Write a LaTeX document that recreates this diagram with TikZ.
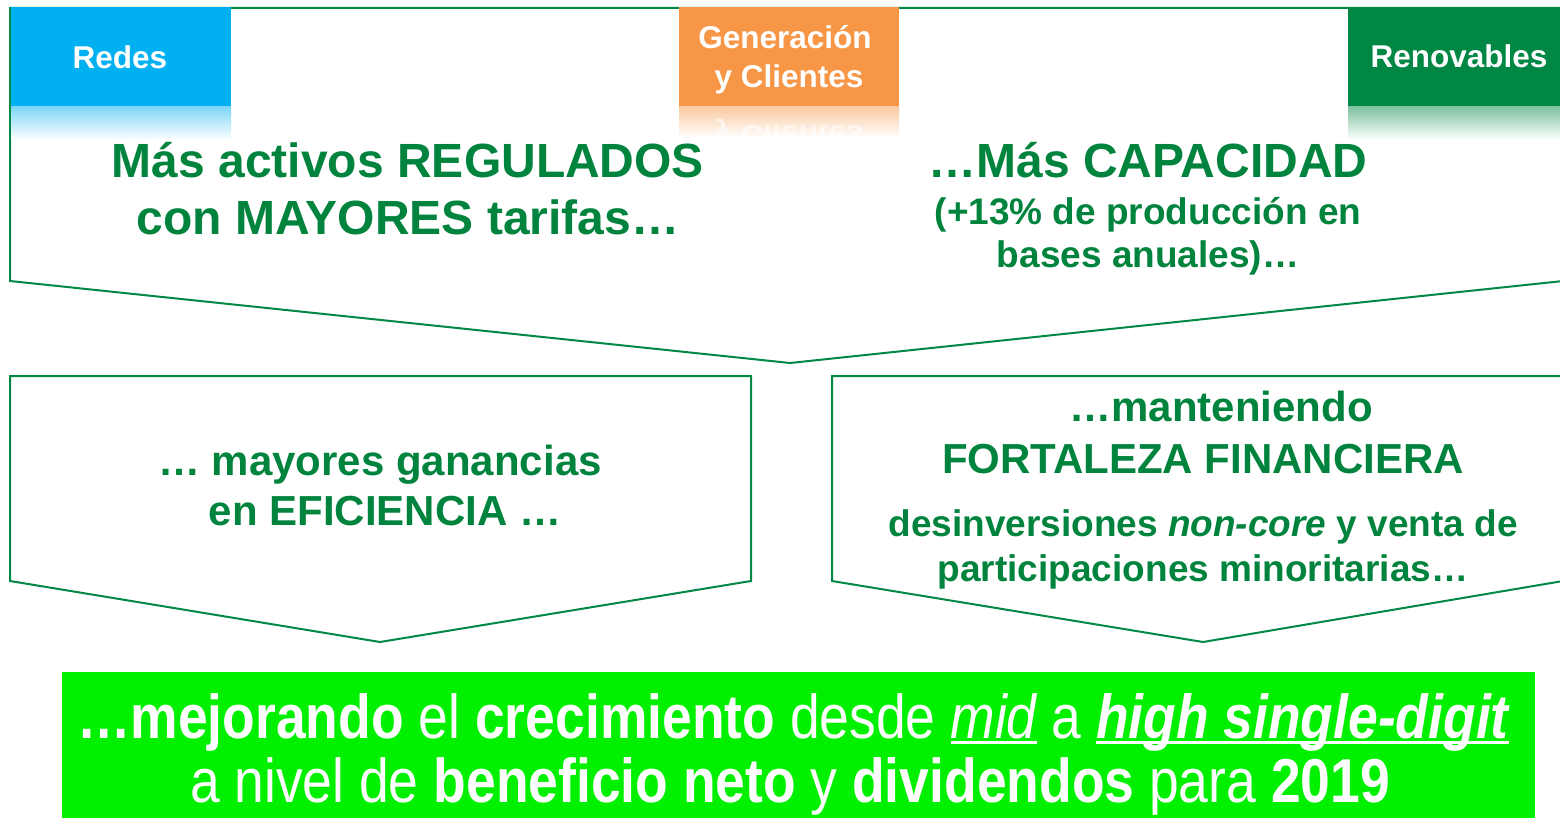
\documentclass[tikz,border=0pt]{standalone}
\usepackage{fontspec}
\setmainfont{Liberation Sans}
\newfontfamily\narrowfont[FakeStretch=0.862]{Liberation Sans}
\definecolor{bordergreen}{RGB}{0,136,70}
\definecolor{textgreen}{RGB}{0,132,61}
\definecolor{bluetab}{RGB}{0,176,240}
\definecolor{orangetab}{RGB}{247,150,70}
\definecolor{greentab}{RGB}{0,135,68}
\definecolor{brightgreen}{RGB}{0,240,0}
\newcommand{\myul}[1]{\setbox0\hbox{#1}\rlap{\rule[-0.1em]{\wd0}{0.05em}}\box0}
\begin{document}
\begin{tikzpicture}[x=1pt,y=-1pt,line join=miter]
\tikzset{
  outline/.style={draw=bordergreen,line width=2pt,fill=white},
  bigtxt/.style={text=textgreen,font=\bfseries\fontsize{48}{56}\selectfont,inner sep=0pt,anchor=base},
  midtxt/.style={text=textgreen,font=\bfseries\fontsize{42}{50}\selectfont,inner sep=0pt,anchor=base},
  smalltxt/.style={text=textgreen,font=\bfseries\fontsize{37}{44}\selectfont,inner sep=0pt,anchor=base},
  tabtxt/.style={text=white,font=\bfseries\fontsize{31.5}{38}\selectfont,inner sep=0pt,anchor=base},
  bottxt/.style={text=white,font=\narrowfont\fontsize{62}{70}\selectfont,inner sep=0pt,anchor=base}
}
\useasboundingbox (0,0) rectangle (1560,818);
\fill[white] (0,0) rectangle (1560,818);
% top pentagon
\draw[outline] (10,8) -- (1563,8) -- (1563,281) -- (790,363) -- (10,281) -- cycle;
% tabs
\fill[bluetab] (11,7) rectangle (231,107);
\shade[top color=bluetab!50,bottom color=white] (11,107) rectangle (231,140);
\fill[orangetab] (679,7) rectangle (899,107);
\shade[top color=orangetab!50,bottom color=white] (679,107) rectangle (899,138);
\fill[greentab] (1348,7) rectangle (1561,107);
\shade[top color=greentab!50,bottom color=white] (1348,107) rectangle (1561,140);
\begin{scope}
  \clip (679,107) rectangle (899,138);
  \node[tabtxt,text opacity=0.6,yscale=-1,transform shape] (refl) at (789,126) {y Clientes};
\end{scope}
\node[tabtxt] (redes) at (120,69) {Redes};
\node[tabtxt] (gen1) at (785,49) {Generación};
\node[tabtxt] (gen2) at (789,88) {y Clientes};
\node[tabtxt] (renov) at (1459,68) {Renovables};
% top texts
\node[bigtxt] (t1) at (408,178) {Más activos REGULADOS};
\node[bigtxt] (t2) at (408,235) {con MAYORES tarifas…};
\node[bigtxt] (t3) at (1148,178) {…Más CAPACIDAD};
\node[smalltxt] (t4) at (1148,225) {(+13\% de producción en};
\node[smalltxt] (t5) at (1148,268) {bases anuales)…};
% bottom pentagons
\draw[outline] (10,376) -- (751,376) -- (751,581) -- (380,642) -- (10,581) -- cycle;
\draw[outline] (832,376) -- (1563,376) -- (1563,581) -- (1203,642) -- (832,581) -- cycle;
\node[midtxt] (l1) at (380,475) {… mayores ganancias};
\node[midtxt] (l2) at (385,525) {en EFICIENCIA …};
\node[midtxt] (r1) at (1221,421) {…manteniendo};
\node[midtxt] (r2) at (1203,473) {FORTALEZA FINANCIERA};
\node[smalltxt] (r3) at (1203,536) {desinversiones \textit{non-core} y venta de};
\node[smalltxt] (r4) at (1203,581) {participaciones minoritarias…};
% bottom box
\fill[brightgreen] (62,672) rectangle (1535,820);
\node[bottxt] (b1) at (793,738) {\textbf{…mejorando} el \textbf{crecimiento} desde \textit{\myul{mid}} a \textbf{\textit{\myul{high single-digit}}}};
\node[bottxt] (b2) at (790,802) {a nivel de \textbf{beneficio neto} y \textbf{dividendos} para \textbf{2019}};
\end{tikzpicture}
\end{document}
